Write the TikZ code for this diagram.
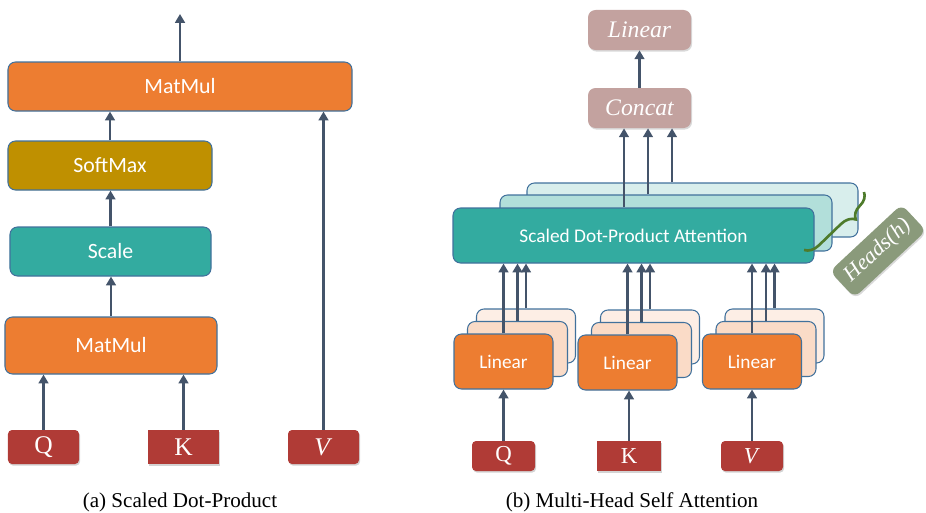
\documentclass[tikz,border=0pt]{standalone}
\usepackage{fontspec}
\setmainfont{Liberation Serif}
\newfontfamily\calibri{Carlito}
\usetikzlibrary{positioning, shapes, arrows.meta, shadows, decorations.pathreplacing}

\definecolor{boxorange}{HTML}{ED7D31}
\definecolor{boxgold}{HTML}{BF9000}
\definecolor{boxteal}{HTML}{33ABA0}
\definecolor{tealmid}{HTML}{B2DFDA}
\definecolor{teallight}{HTML}{D8EEEC}
\definecolor{peachmid}{HTML}{FADBC7}
\definecolor{peachlight}{HTML}{FDEEE5}
\definecolor{inred}{HTML}{B03B36}
\definecolor{rose}{HTML}{C3A29F}
\definecolor{sage}{HTML}{8A9A7B}
\definecolor{edgeblue}{HTML}{41719C}
\definecolor{arrowgray}{HTML}{44546A}
\definecolor{bracegreen}{HTML}{4E7B2B}

\begin{document}
\begin{tikzpicture}[
        x=0.2mm, y=-0.2mm,
        layer/.style={rectangle, rounded corners=1.5mm, draw=edgeblue, line width=0.6pt, inner sep=0pt},
        opbox/.style={layer, text=white, minimum height=9.8mm, font=\calibri\fontsize{12.4}{14}\selectfont},
        inbox/.style={rectangle, rounded corners=0.8mm, fill=inred, text=white, inner sep=0pt,
            minimum width=14.2mm, minimum height=6.8mm, font=\fontsize{14.5}{16}\selectfont,
            drop shadow={shadow xshift=0.6pt, shadow yshift=-0.9pt, opacity=0.35}},
        headbox/.style={rectangle, rounded corners=1.5mm, fill=rose, text=white, inner sep=0pt,
            minimum width=20.6mm, minimum height=8mm, font=\itshape\fontsize{13.5}{15}\selectfont,
            drop shadow={shadow xshift=0.6pt, shadow yshift=-0.9pt, opacity=0.3}},
        headtag/.style={rectangle, rotate=43, rounded corners=1.5mm, fill=sage, text=white, inner sep=0pt,
            minimum width=19.6mm, minimum height=7.2mm, font=\itshape\fontsize{12.5}{14}\selectfont,
            drop shadow={shadow xshift=0.6pt, shadow yshift=-0.9pt, opacity=0.3}},
        arr/.style={draw=arrowgray, line width=1.4pt, -{Triangle[width=5.5pt, length=5pt]}},
        caption/.style={anchor=base, font=\fontsize{12}{14}\selectfont}
    ]
    \useasboundingbox (0,0) rectangle (926,513);

    % (a) scaled dot-product
    \node[opbox, fill=boxorange, minimum width=68.8mm] (mmtop) at (180,86.5) {MatMul};
    \node[opbox, fill=boxgold, minimum width=40.8mm] (smax) at (110,165.5) {SoftMax};
    \node[opbox, fill=boxteal, minimum width=40.2mm] (scale) at (110.5,251.5) {Scale};
    \node[opbox, fill=boxorange, minimum width=42.4mm, minimum height=11.4mm] (mmlow) at (111,345.5) {MatMul};
    \node[inbox] (qa) at (43.5,447) {Q};
    \node[inbox, sharp corners] (ka) at (183.5,447) {K};
    \node[inbox] (va) at (323.5,447) {\textit{V}};
    \coordinate (outa) at (180,14);

    \draw[arr] (qa.north) -- (qa.north |- mmlow.south);
    \draw[arr] (ka.north) -- (ka.north |- mmlow.south);
    \draw[arr] (va.north) -- (va.north |- mmtop.south);
    \draw[arr] (mmlow.north) -- (mmlow.north |- scale.south);
    \draw[arr] (scale.north) -- (scale.north |- smax.south);
    \draw[arr] (smax.north) -- (smax.north |- mmtop.south);
    \draw[arr] (mmtop.north) -- (outa);

    % (b) multi-head attention
    \node[headbox] (lin) at (639.5,30) {Linear};
    \node[headbox] (cat) at (639.5,108) {Concat};

    % attention heads, back to front
    \node[layer, fill=teallight, minimum width=66.2mm, minimum height=10.8mm] (att3) at (692.5,210) {};
    \node[layer, fill=tealmid, minimum width=66.4mm, minimum height=11.2mm] (att2) at (666,223) {};
    \node[opbox, fill=boxteal, minimum width=72.2mm, minimum height=11mm,
        font=\calibri\fontsize{11}{13}\selectfont] (att1) at (633.5,235.5) {Scaled Dot-Product Attention};

    % linear projections, one stack per input
    \foreach \g/\x/\y in {q/503.5/361.5, k/627.5/362.5, v/752/361.5} {
        \node[layer, fill=peachlight, minimum width=19.8mm, minimum height=10.8mm] (\g3) at (\x+22.5,\y-25.5) {};
        \node[layer, fill=peachmid, minimum width=20mm, minimum height=11mm] (\g2) at (\x+14,\y-12.5) {};
        \node[opbox, fill=boxorange, minimum width=19.8mm, minimum height=11mm,
            font=\calibri\fontsize{11}{13}\selectfont] (\g1) at (\x,\y) {Linear};
    }

    \node[inbox, minimum width=12.6mm, minimum height=6mm, font=\fontsize{13}{15}\selectfont] (inq) at (503.5,456) {Q};
    \node[inbox, sharp corners, minimum width=12.8mm, minimum height=6mm, font=\fontsize{13}{15}\selectfont] (ink) at (629,456) {K};
    \node[inbox, minimum width=12.4mm, minimum height=6mm, font=\fontsize{13}{15}\selectfont] (inv) at (752,456) {\textit{V}};

    \foreach \g in {q,k,v} {
        \draw[arr] (in\g.north) -- (in\g.north |- \g1.south);
        \foreach \i in {1,2,3}
            \draw[arr] (\g\i.north) -- (\g\i.north |- att1.south);
    }

    \draw[arr] ([xshift=-3.1mm]cat.south |- att1.north) -- ([xshift=-3.1mm]cat.south);
    \draw[arr] ([xshift=1.7mm]cat.south |- att2.north) -- ([xshift=1.7mm]cat.south);
    \draw[arr] ([xshift=6.5mm]cat.south |- att3.north) -- ([xshift=6.5mm]cat.south);
    \draw[arr] (cat.north) -- (lin.south);

    % brace over the heads
    \coordinate (brtop) at (864,192);
    \coordinate (brbot) at (804,250);
    \draw[bracegreen, line width=1.5pt, decorate, decoration={brace, amplitude=2.8mm, aspect=0.3}] (brtop) -- (brbot);
    \node[headtag] (heads) at (878,251) {Heads(h)};

    \node[caption] (capa) at (180,507) {(a) Scaled Dot-Product};
    \node[caption] (capb) at (632,507) {(b) Multi-Head Self Attention};
\end{tikzpicture}
\end{document}
